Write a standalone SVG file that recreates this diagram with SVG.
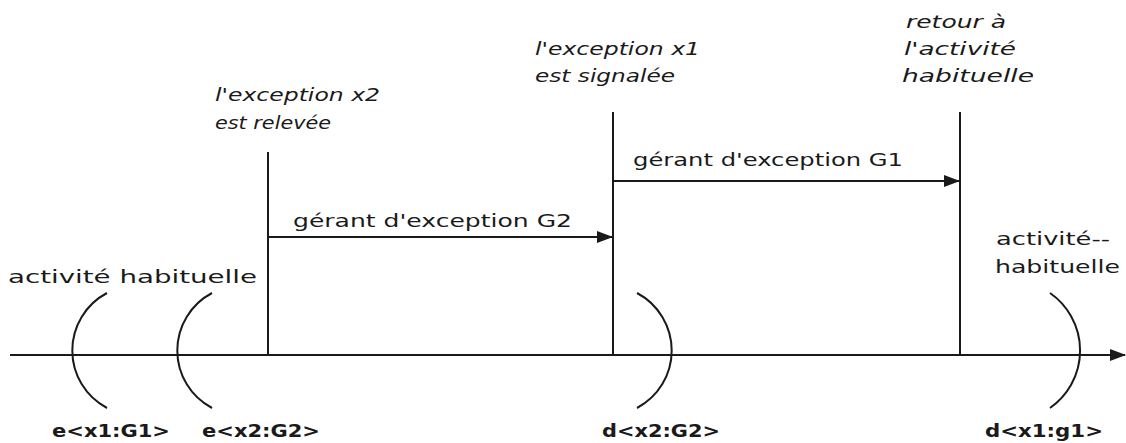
<svg xmlns="http://www.w3.org/2000/svg" width="1126" height="443" viewBox="0 0 1126 443">
<defs>
<marker id="ah" markerWidth="16" markerHeight="12" refX="15" refY="6" orient="auto" markerUnits="userSpaceOnUse">
<path d="M0,0 L16,6 L0,12 Z" fill="#1a1a1a"/>
</marker>
<style>
.ln{stroke:#1a1a1a;stroke-width:2;fill:none}
.t{font-family:"DejaVu Sans","Liberation Sans",sans-serif;font-size:18px;fill:#1a1a1a}
.it{font-family:"DejaVu Sans","Liberation Sans",sans-serif;font-size:18px;font-style:italic;fill:#1a1a1a}
.b{font-family:"DejaVu Sans","Liberation Sans",sans-serif;font-size:18px;font-weight:bold;fill:#1a1a1a}
</style>
</defs>
<rect width="1126" height="443" fill="#ffffff"/>
<g id="connectors">
<line class="ln" x1="10" y1="355" x2="1125" y2="355" marker-end="url(#ah)"/>
<line class="ln" x1="268" y1="237" x2="612" y2="237" marker-end="url(#ah)"/>
<line class="ln" x1="613" y1="181" x2="959" y2="181" marker-end="url(#ah)"/>
<text class="t" x="293" y="227" textLength="279" lengthAdjust="spacingAndGlyphs">gérant d'exception G2</text>
<text class="t" x="633" y="166" textLength="270" lengthAdjust="spacingAndGlyphs">gérant d'exception G1</text>
</g>
<g id="activite-habituelle-gauche">
<text class="t" x="8" y="283" textLength="249" lengthAdjust="spacingAndGlyphs">activité habituelle</text>
</g>
<g id="e-x1-G1">
<path class="ln" d="M107,293 A65,65 0 0 0 107,408"/>
<text class="b" x="52" y="437" textLength="118" lengthAdjust="spacingAndGlyphs">e&lt;x1:G1&gt;</text>
</g>
<g id="e-x2-G2">
<path class="ln" d="M212,293 A65,65 0 0 0 212,408"/>
<text class="b" x="202" y="437" textLength="118" lengthAdjust="spacingAndGlyphs">e&lt;x2:G2&gt;</text>
</g>
<g id="x2-relevee">
<line class="ln" x1="268" y1="152" x2="268" y2="354"/>
<text class="it" x="215" y="101" textLength="165" lengthAdjust="spacingAndGlyphs">l'exception x2</text>
<text class="it" x="215" y="129" textLength="116" lengthAdjust="spacingAndGlyphs">est relevée</text>
</g>
<g id="x1-signalee">
<line class="ln" x1="613" y1="112" x2="613" y2="354"/>
<text class="it" x="535" y="55" textLength="165" lengthAdjust="spacingAndGlyphs">l'exception x1</text>
<text class="it" x="535" y="82" textLength="140" lengthAdjust="spacingAndGlyphs">est signalée</text>
</g>
<g id="d-x2-G2">
<path class="ln" d="M637,293 A65,65 0 0 1 637,408"/>
<text class="b" x="602" y="437" textLength="118" lengthAdjust="spacingAndGlyphs">d&lt;x2:G2&gt;</text>
</g>
<g id="retour">
<line class="ln" x1="960" y1="112" x2="960" y2="354"/>
<text class="it" x="906" y="28" textLength="100" lengthAdjust="spacingAndGlyphs">retour à</text>
<text class="it" x="904" y="55" textLength="112" lengthAdjust="spacingAndGlyphs">l'activité</text>
<text class="it" x="902" y="82" textLength="132" lengthAdjust="spacingAndGlyphs">habituelle</text>
</g>
<g id="activite-habituelle-droite">
<text class="t" x="996" y="245" textLength="114" lengthAdjust="spacingAndGlyphs">activité--</text>
<text class="t" x="995" y="273" textLength="125" lengthAdjust="spacingAndGlyphs">habituelle</text>
</g>
<g id="d-x1-g1">
<path class="ln" d="M1050,293 A70,70 0 0 1 1050,408"/>
<text class="b" x="985" y="437" textLength="118" lengthAdjust="spacingAndGlyphs">d&lt;x1:g1&gt;</text>
</g>
</svg>
